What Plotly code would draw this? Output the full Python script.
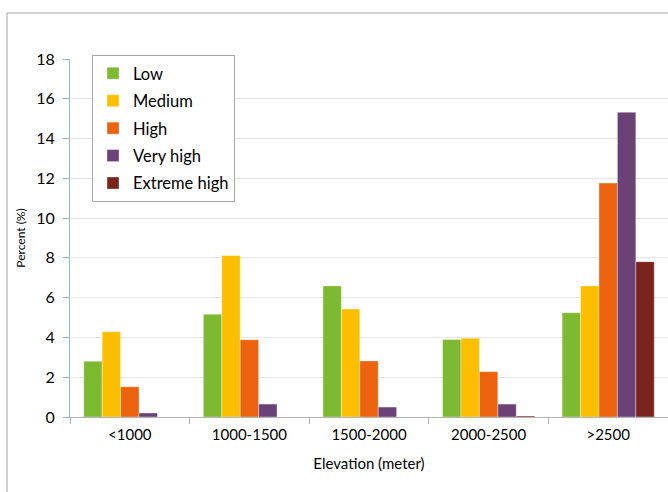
import plotly.graph_objects as go

categories = ["<1000", "1000-1500", "1500-2000", "2000-2500", ">2500"]
low = [2.80, 5.16, 6.59, 3.90, 5.24]
medium = [4.29, 8.12, 5.43, 3.96, 6.59]
high = [1.52, 3.88, 2.82, 2.28, 11.76]
very_high = [0.20, 0.65, 0.50, 0.65, 15.32]
extreme_high = [0.0, 0.0, 0.0, 0.05, 7.81]
y_ticks = [0, 2, 4, 6, 8, 10, 12, 14, 16, 18]

series = [
    ("Low", low, "#7db931"),
    ("Medium", medium, "#fbbf00"),
    ("High", high, "#ec620f"),
    ("Very high", very_high, "#6a4277"),
    ("Extreme high", extreme_high, "#7b241c"),
]

FONT = "Lato, Carlito, Calibri, sans-serif"

fig = go.Figure()
for name, vals, col in series:
    fig.add_trace(go.Bar(
        x=categories, y=vals, name=name, legendgroup=name,
        marker=dict(color=col, line=dict(color="rgba(255,255,255,0.6)", width=0.6)),
    ))

W, H = 668, 492
L, R, T, B = 70, 0, 59, 75
pw, ph = W - L - R, H - T - B

fig.update_layout(
    width=W, height=H,
    margin=dict(l=L, r=R, t=T, b=B),
    paper_bgcolor="white", plot_bgcolor="white",
    barmode="group", bargap=0.23, bargroupgap=0,
    font=dict(family=FONT, size=15, color="#000000"),
    showlegend=True,
    legend=dict(
        x=(92 - L) / pw, y=(H - B - 55) / ph, xanchor="left", yanchor="top",
        bgcolor="white", bordercolor="#a6a6a6", borderwidth=1,
        font=dict(family=FONT, size=16.5, color="#000000"),
        tracegroupgap=3, itemwidth=30,
    ),
    xaxis=dict(
        showline=True, linecolor="#b3b3b3", linewidth=1,
        ticks="outside", tickson="boundaries", ticklen=6, tickcolor="#b3b3b3",
        ticklabelstandoff=4,
        showgrid=False,
        tickfont=dict(family=FONT, size=15),
        title=dict(text="Elevation (meter)", font=dict(family=FONT, size=15), standoff=16),
    ),
    yaxis=dict(
        range=[0, 18], tickvals=y_ticks,
        showline=True, linecolor="#8db4e2", linewidth=1,
        ticks="outside", ticklen=6, tickcolor="#8db4e2",
        ticklabelstandoff=5,
        showgrid=True, gridcolor="#e6e6e6", gridwidth=1,
        zeroline=False,
        tickfont=dict(family=FONT, size=16),
        title=dict(text="Percent (%)", font=dict(family=FONT, size=12), standoff=8),
    ),
    shapes=[dict(
        type="rect", xref="paper", yref="paper",
        x0=(7 - L) / pw, x1=1.1, y0=-0.5, y1=(H - B - 13) / ph,
        line=dict(color="#a6a6a6", width=1), fillcolor="rgba(0,0,0,0)", layer="below",
    )],
)

fig.write_html(
    "out.html",
    config={"displayModeBar": False},
    post_script="document.body.style.margin='0';document.body.style.overflow='hidden';",
)
